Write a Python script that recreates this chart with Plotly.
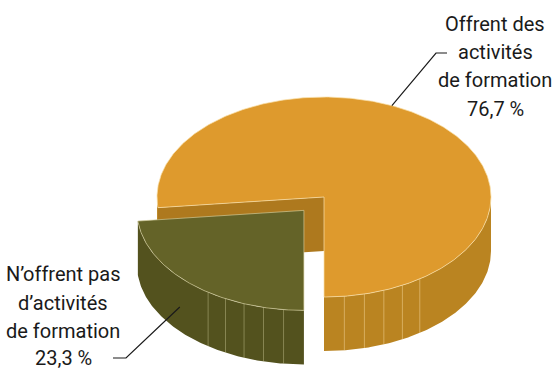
import numpy as np
import plotly.graph_objects as go

# Share of establishments (percent)
label_lines = [["Offrent des", "activités", "de formation"],
               ["N’offrent pas", "d’activités", "de formation"]]
values = [76.7, 23.3]

top_colors = ["#DE9A2D", "#646328"]
wall_colors = ["#BA8421", "#53521E"]
face_colors = ["#AE791E", "#4C4B1B"]
rim_colors = ["rgba(250,225,170,0.9)", "rgba(215,210,160,0.8)"]

# Projection of the tilted disc onto the page
CX, CY, RX, RY, DEPTH = 324, 197, 167, 100, 54
START = 270.0          # first slice starts at the front and runs counter-clockwise
PULL = [0.0, 0.18]     # exploded fraction of the radius


def pt(theta_deg, r=1.0, dz=0.0, off=(0.0, 0.0)):
    t = np.radians(theta_deg)
    return (CX + off[0] + r * RX * np.cos(t),
            CY + off[1] - r * RY * np.sin(t) + dz)


def arc(a0, a1, dz=0.0, off=(0.0, 0.0), n=None):
    n = n or max(int(abs(a1 - a0) * 1.5), 3)
    th = np.linspace(a0, a1, n)
    xs, ys = pt(th, dz=dz, off=off)
    return list(xs), list(ys)


def poly(xs, ys, fill, line_color=None, width=0.0):
    return go.Scatter(
        x=xs + [xs[0]], y=ys + [ys[0]], mode="lines", fill="toself",
        fillcolor=fill, line=dict(color=line_color or fill, width=width),
        hoverinfo="skip", showlegend=False)


# slice angular ranges
total = sum(values)
spans = []
a = START
for v in values:
    sweep = 360.0 * v / total
    spans.append((a, a + sweep))
    a += sweep

offsets = []
for (a0, a1), p in zip(spans, PULL):
    mid = np.radians((a0 + a1) / 2)
    offsets.append((p * RX * np.cos(mid), -p * RY * np.sin(mid)))


def visible_wall_ranges(a0, a1):
    """Parts of [a0, a1] lying on the front half of the disc (180..360 mod 360)."""
    out = []
    for k in range(-1, 3):
        lo, hi = 180 + 360 * k, 360 + 360 * k
        s, e = max(a0, lo), min(a1, hi)
        if e > s:
            out.append((s, e))
    return out


def wall_traces(i):
    a0, a1 = spans[i]
    off = offsets[i]
    tr = []
    for s, e in visible_wall_ranges(a0, a1):
        tx, ty = arc(s, e, off=off)
        bx, by = arc(e, s, dz=DEPTH, off=off)
        tr.append(poly(tx + bx, ty + by, wall_colors[i]))
        # facet seams near the front of the wall
        for k in range(-5, 6):
            th = 270 + 7 * k
            for base in (th - 360, th, th + 360):
                if s + 1 < base < e - 1 and k != 0:
                    x0, y0 = pt(base, off=off)
                    x1, y1 = pt(base, dz=DEPTH, off=off)
                    tr.append(go.Scatter(x=[x0, x1], y=[y0, y1], mode="lines",
                                         line=dict(color=rim_colors[i], width=0.5),
                                         hoverinfo="skip", showlegend=False))
    return tr


def cut_face(i, theta):
    off = offsets[i]
    ax, ay = pt(theta, r=0, off=off)
    rx_, ry_ = pt(theta, off=off)
    xs = [ax, rx_, rx_, ax]
    ys = [ay, ry_, ry_ + DEPTH, ay + DEPTH]
    return poly(xs, ys, face_colors[i])


def top(i):
    a0, a1 = spans[i]
    off = offsets[i]
    ax, ay = pt(a0, r=0, off=off)
    xs, ys = arc(a0, a1, off=off)
    return poly([ax] + xs, [ay] + ys, top_colors[i], rim_colors[i], 0.8)


traces = []
# large slice: its cut side at the end angle faces the viewer
traces.append(cut_face(0, spans[0][1]))
traces += wall_traces(0)
traces.append(top(0))
# exploded small slice in front
traces += wall_traces(1)
traces.append(top(1))

fig = go.Figure(traces)

# labels with leader lines
pct = [f"{v:.1f}".replace(".", ",") + " %" for v in values]
font = dict(family="Roboto, Lato, sans-serif", size=20, color="#1A1A1A")

rx0, ry0 = pt(66, off=offsets[0])
lx0, ly0 = pt(222, dz=0.55 * DEPTH, off=offsets[1])
fig.add_shape(type="path", path=f"M {rx0:.1f} {ry0:.1f} L 436 53 L 447 53",
              line=dict(color="#1A1A1A", width=1.2))
fig.add_shape(type="path", path=f"M 113 358 L 126 358 L {lx0:.1f} {ly0:.1f}",
              line=dict(color="#1A1A1A", width=1.2))

label_pos = [(495, [24, 52, 80, 109]), (63, [274, 303, 331, 358])]
for lines, p, (xc, ys) in zip(label_lines, pct, label_pos):
    for txt, yy in zip(lines + [p], ys):
        fig.add_annotation(x=xc, y=yy, text=txt, showarrow=False, font=font,
                           xanchor="center", yanchor="middle")

fig.update_layout(
    width=553, height=372, autosize=False,
    margin=dict(l=0, r=0, t=0, b=0),
    paper_bgcolor="white", plot_bgcolor="white",
    xaxis=dict(range=[0, 553], visible=False, fixedrange=True),
    yaxis=dict(range=[372, 0], visible=False, fixedrange=True),
    showlegend=False,
)

fig.write_html("out.html")
